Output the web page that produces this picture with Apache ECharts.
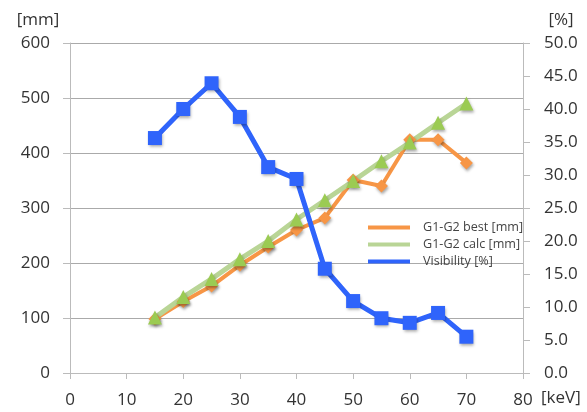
<!DOCTYPE html>
<html><head><meta charset="utf-8">
<script src="https://cdn.jsdelivr.net/npm/echarts@6/dist/echarts.min.js"></script>
<style>html,body{margin:0;padding:0;background:#fff}#c{width:587px;height:412px}</style>
</head><body><div id="c"></div>
<script>
const energies = [15, 20, 25, 30, 35, 40, 45, 50, 55, 60, 65, 70];
const bestMM = [98, 130, 158, 196, 229, 260, 282, 351, 340, 424, 424, 382];
const calcMM = [101, 138, 171, 207, 240, 279, 314, 349, 385, 419, 455, 490];
const visibility = [35.6, 40.0, 43.9, 38.8, 31.2, 29.4, 15.8, 10.9, 8.3, 7.6, 9.1, 5.5];
const seriesNames = ['G1-G2 best [mm]', 'G1-G2 calc [mm]', 'Visibility [%]'];

const pairs = v => energies.map((e, i) => [e, v[i]]);
const font = '"Open Sans", "Noto Sans", sans-serif';
const shadow = {shadowColor: 'rgba(0,0,0,0.35)', shadowBlur: 3, shadowOffsetX: 1, shadowOffsetY: 2};

const chart = echarts.init(document.getElementById('c'), null, {renderer: 'canvas'});
chart.setOption({
  animation: false,
  backgroundColor: '#fff',
  grid: {left: 70, right: 64, top: 43, bottom: 39},
  legend: {
    orient: 'vertical', left: 363, top: 216, itemGap: 4,
    itemWidth: 42, itemHeight: 4, icon: 'rect',
    textStyle: {fontFamily: font, fontSize: 12.6, color: '#444', lineHeight: 13, padding: [0, 0, 0, 8]},
    data: [
      {name: seriesNames[0], itemStyle: {color: '#f79646'}},
      {name: seriesNames[1], itemStyle: {color: '#b9d596'}},
      {name: seriesNames[2], itemStyle: {color: '#2f64fb'}}
    ]
  },
  xAxis: {
    type: 'value', min: 0, max: 80, interval: 10,
    name: '[keV]', nameLocation: 'end', nameGap: 18,
    nameTextStyle: {fontFamily: font, fontSize: 17, color: '#333', verticalAlign: 'top', padding: [17, 0, 0, 0]},
    axisLine: {show: true, lineStyle: {color: '#bbb', width: 1}},
    axisTick: {show: true, length: 6, lineStyle: {color: '#bbb'}},
    axisLabel: {fontFamily: font, fontSize: 17, color: '#333', margin: 19},
    splitLine: {show: false}
  },
  yAxis: [{
    type: 'value', min: 0, max: 600, interval: 100,
    name: '[mm]', nameLocation: 'end', nameGap: 14,
    nameTextStyle: {fontFamily: font, fontSize: 17, color: '#333', align: 'center', padding: [0, 64, 0, 0]},
    axisLine: {show: true, lineStyle: {color: '#bbb', width: 1}},
    axisTick: {show: true, inside: false, length: 7, lineStyle: {color: '#bbb'}},
    axisLabel: {fontFamily: font, fontSize: 17, color: '#333', margin: 20},
    splitLine: {show: true, lineStyle: {color: '#aaa', width: 1}}
  }, {
    type: 'value', min: 0, max: 50, interval: 5, position: 'right',
    name: '[%]', nameLocation: 'end', nameGap: 14,
    nameTextStyle: {fontFamily: font, fontSize: 17, color: '#333', align: 'center', padding: [0, 0, 0, 76]},
    axisLine: {show: true, lineStyle: {color: '#bbb', width: 1}},
    axisTick: {show: true, length: 7, lineStyle: {color: '#bbb'}},
    axisLabel: {fontFamily: font, fontSize: 17, color: '#333', margin: 21, formatter: v => v.toFixed(1)},
    splitLine: {show: false}
  }],
  series: [{
    name: seriesNames[0], type: 'line', yAxisIndex: 0, data: pairs(bestMM),
    symbol: 'diamond', symbolSize: 13,
    lineStyle: {color: '#f79646', width: 4},
    itemStyle: Object.assign({color: '#f79646'}, shadow)
  }, {
    name: seriesNames[1], type: 'line', yAxisIndex: 0, data: pairs(calcMM),
    symbol: 'triangle', symbolSize: 14,
    lineStyle: {color: '#b9d596', width: 5},
    itemStyle: Object.assign({color: '#9bcb53'}, shadow)
  }, {
    name: seriesNames[2], type: 'line', yAxisIndex: 1, data: pairs(visibility),
    symbol: 'rect', symbolSize: 14,
    lineStyle: {color: '#2f64fb', width: 5},
    itemStyle: Object.assign({color: '#2f64fb'}, shadow)
  }]
});
</script></body></html>
